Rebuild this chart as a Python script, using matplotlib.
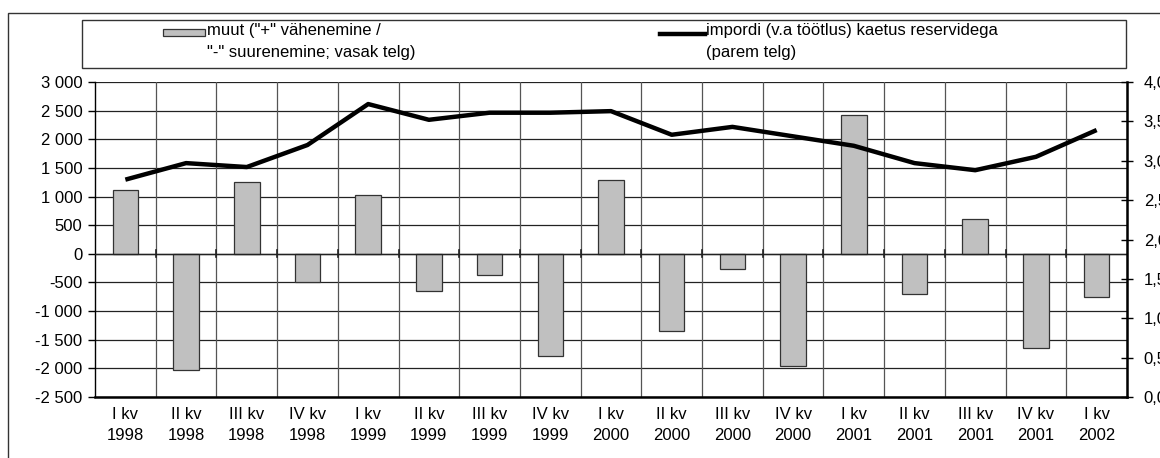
import numpy as np
import matplotlib.pyplot as plt
from matplotlib.patches import Rectangle
from matplotlib.lines import Line2D

plt.rcParams['font.family'] = ['Liberation Sans', 'DejaVu Sans']

quarters = ['I kv', 'II kv', 'III kv', 'IV kv'] * 4 + ['I kv']
years = ['1998'] * 4 + ['1999'] * 4 + ['2000'] * 4 + ['2001'] * 4 + ['2002']
muut = [1120, -2030, 1250, -500, 1020, -650, -370, -1780, 1290, -1350,
        -260, -1950, 2430, -700, 600, -1640, -760]
kaetus = [2.76, 2.97, 2.92, 3.20, 3.72, 3.52, 3.61, 3.61, 3.63, 3.33,
          3.43, 3.31, 3.19, 2.97, 2.88, 3.05, 3.39]

W, H = 1160, 458
FS = 12
fig = plt.figure(figsize=(W / 100, H / 100), dpi=100)


def fx(px):
    return px / W


def fy(py):
    return 1 - py / H


# outer frame
fig.patches.append(Rectangle((fx(8), fy(470)), fx(1200 - 8), fy(13) - fy(470),
                             transform=fig.transFigure, fill=False,
                             edgecolor='#333333', linewidth=1.0))

ax = fig.add_axes([fx(95), fy(397), fx(1127 - 95), fy(82) - fy(397)])
x = np.arange(len(muut))
labels = [q + '\n' + y for q, y in zip(quarters, years)]

ax.bar(x, muut, width=0.42, color='#c0c0c0', edgecolor='#333333',
       linewidth=0.9, zorder=3)
ax.set_xlim(-0.5, len(muut) - 0.5)
ax.set_ylim(-2500, 3000)
ax.set_yticks(np.arange(-2500, 3001, 500))
ax.set_yticklabels([f'{v:,}'.replace(',', ' ') for v in range(-2500, 3001, 500)])
ax.set_xticks(x)
ax.set_xticklabels(labels, linespacing=1.5)
ax.tick_params(axis='x', length=0, pad=7, labelsize=FS)
ax.tick_params(axis='y', direction='out', length=5, width=1, labelsize=FS, pad=4)

# grid
for v in np.arange(-2500, 3001, 500):
    ax.axhline(v, color='#222222', linewidth=0.9, zorder=1)
for b in np.arange(0.5, len(muut) - 0.5, 1):
    ax.axvline(b, color='#555555', linewidth=0.9, zorder=1)
ax.axhline(0, color='#222222', linewidth=1.0, zorder=4)
for b in np.arange(0.5, len(muut) - 0.5, 1):
    ax.plot([b, b], [-60, 60], color='#222222', linewidth=1.2, zorder=4)

ax.spines['top'].set_visible(False)
ax.spines['left'].set_linewidth(1.0)
ax.spines['bottom'].set_linewidth(1.8)

ax2 = ax.twinx()
ax2.plot(x, kaetus, color='black', linewidth=3.2, zorder=5,
         solid_capstyle='butt')
ax2.set_ylim(0, 4.0)
ax2.set_yticks(np.arange(0, 4.01, 0.5))
ax2.set_yticklabels([f'{v:.1f}'.replace('.', ',') for v in np.arange(0, 4.01, 0.5)])
ax2.tick_params(axis='y', direction='inout', length=8, width=1, labelsize=FS, pad=8)
ax2.spines['top'].set_visible(False)
ax2.spines['left'].set_visible(False)
ax2.spines['bottom'].set_visible(False)
ax2.spines['right'].set_linewidth(1.8)

# legend box
fig.patches.append(Rectangle((fx(82), fy(68)), fx(1126 - 82), fy(20) - fy(68),
                             transform=fig.transFigure, fill=False,
                             edgecolor='#333333', linewidth=1.0))
fig.patches.append(Rectangle((fx(163), fy(36)), fx(205 - 163), fy(29) - fy(36),
                             transform=fig.transFigure, facecolor='#c0c0c0',
                             edgecolor='#333333', linewidth=0.9))
fig.text(fx(207), fy(31), 'muut ("+" vähenemine /', fontsize=FS, va='center')
fig.text(fx(207), fy(53), '"-" suurenemine; vasak telg)', fontsize=FS, va='center')
fig.lines.append(Line2D([fx(660), fx(705)], [fy(34), fy(34)],
                        transform=fig.transFigure, color='black', linewidth=3.2))
fig.text(fx(706), fy(31), 'impordi (v.a töötlus) kaetus reservidega', fontsize=FS, va='center')
fig.text(fx(706), fy(53), '(parem telg)', fontsize=FS, va='center')

fig.savefig('out.png', dpi=100)
